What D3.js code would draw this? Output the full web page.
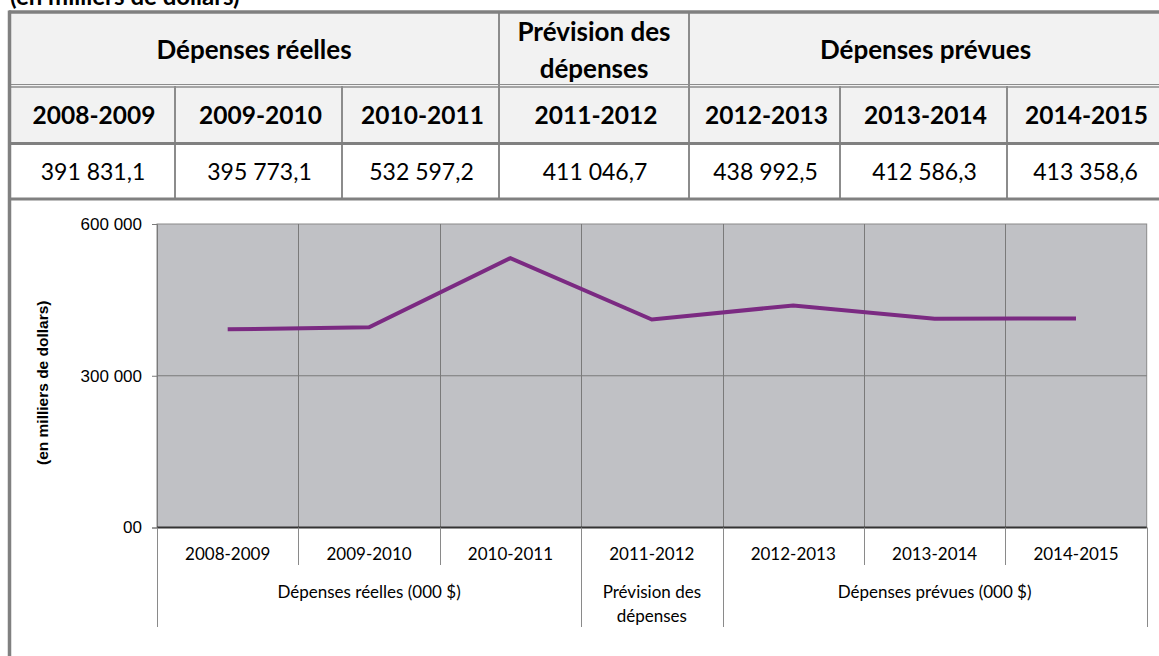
<!DOCTYPE html>
<html>
<head>
<meta charset="utf-8">
<script src="https://cdn.jsdelivr.net/npm/d3@7"></script>
<style>
  body { margin: 0; background: #fff; }
  svg { display: block; }
</style>
</head>
<body>
<script>
// data
const years = ["2008-2009", "2009-2010", "2010-2011", "2011-2012", "2012-2013", "2013-2014", "2014-2015"];
const spending = [391831.1, 395773.1, 532597.2, 411046.7, 438992.5, 412586.3, 413358.6];
const headGroups = ["Dépenses réelles", "Prévision des|dépenses", "Dépenses prévues"];
const groupSpan = [3, 1, 3];
const axisGroups = ["Dépenses réelles (000 $)", "Prévision des|dépenses", "Dépenses prévues (000 $)"];
const yTicks = [0, 300000, 600000];
const yTickLabels = ["00", "300 000", "600 000"];
const yTitle = "(en milliers de dollars)";

const W = 1159, H = 656;
const calibri = "Lato, 'Open Sans', sans-serif";
const arial = "'Liberation Sans', Arial, sans-serif";
const border = "#808080";

// table column edges (layout)
const colEdges = [9, 175, 342, 499, 689, 840, 1007, 1162];
const rowTop = 12, row1 = 86, row2 = 143.5, row3 = 199;

const fr = d3.formatLocale({decimal: ",", thousands: "\u00a0", grouping: [3], currency: ["", " $"]});
const fmt = fr.format(",.1f");

const svg = d3.select("body").append("svg")
  .attr("width", W)
  .attr("height", H);

// top caption, cut by the page edge like in the source
svg.append("text")
  .attr("x", 10).attr("y", 5)
  .attr("font-family", calibri).attr("font-weight", "bold").attr("font-size", 24)
  .attr("fill", "#000")
  .text("(en milliers de dollars)");

// header backgrounds
svg.append("rect")
  .attr("x", colEdges[0]).attr("y", rowTop)
  .attr("width", colEdges[7] - colEdges[0]).attr("height", row2 - rowTop)
  .attr("fill", "#f2f2f2");

// group header row
let start = 0;
headGroups.forEach(function(g, i) {
  const x0 = colEdges[start], x1 = colEdges[start + groupSpan[i]];
  const lines = g.split("|");
  const t = svg.append("text")
    .attr("text-anchor", "middle")
    .attr("font-family", calibri).attr("font-weight", "bold").attr("font-size", 26)
    .attr("fill", "#000");
  lines.forEach(function(l, j) {
    t.append("tspan")
      .attr("x", (x0 + x1) / 2)
      .attr("y", (rowTop + row1) / 2 + 10 + (j - (lines.length - 1) / 2) * 37)
      .text(l);
  });
  if (i > 0) {
    svg.append("line")
      .attr("x1", x0).attr("x2", x0).attr("y1", rowTop).attr("y2", row1)
      .attr("stroke", "#8c8c8c").attr("stroke-width", 2);
  }
  start += groupSpan[i];
});

// year row and value row
years.forEach(function(y, i) {
  const x0 = colEdges[i], x1 = colEdges[i + 1];
  svg.append("text")
    .attr("x", (x0 + x1) / 2 + 2).attr("y", (row1 + row2) / 2 + 9)
    .attr("text-anchor", "middle")
    .attr("font-family", calibri).attr("font-weight", "bold").attr("font-size", 24.5)
    .text(y);
  svg.append("text")
    .attr("x", (x0 + x1) / 2 + 1).attr("y", (row2 + row3) / 2 + 9)
    .attr("text-anchor", "middle")
    .attr("font-family", calibri).attr("font-size", 23)
    .text(fmt(spending[i]));
  if (i > 0) {
    svg.append("line")
      .attr("x1", x0).attr("x2", x0).attr("y1", row1).attr("y2", row3)
      .attr("stroke", "#8c8c8c").attr("stroke-width", 2);
  }
});

// horizontal table rules
svg.append("line").attr("x1", colEdges[0]).attr("x2", W).attr("y1", row1 - 1.5).attr("y2", row1 - 1.5)
  .attr("stroke", "#8c8c8c").attr("stroke-width", 1);
svg.append("line").attr("x1", colEdges[0]).attr("x2", W).attr("y1", row1 + 1).attr("y2", row1 + 1)
  .attr("stroke", "#8c8c8c").attr("stroke-width", 1.5);
[row2, row3].forEach(function(r) {
  svg.append("line").attr("x1", colEdges[0]).attr("x2", W).attr("y1", r).attr("y2", r)
    .attr("stroke", border).attr("stroke-width", 3);
});
// outer border
svg.append("line").attr("x1", colEdges[0]).attr("x2", W).attr("y1", rowTop).attr("y2", rowTop)
  .attr("stroke", border).attr("stroke-width", 3.5);
svg.append("line").attr("x1", 9.5).attr("x2", 9.5).attr("y1", rowTop - 1.5).attr("y2", H)
  .attr("stroke", border).attr("stroke-width", 3.5);

// ---- chart ----
const plot = {left: 157, right: 1146.7, top: 224, bottom: 527.5};

const x = d3.scaleBand()
  .domain(years)
  .range([plot.left, plot.right])
  .padding(0);

const y = d3.scaleLinear()
  .domain([0, 600000])
  .range([plot.bottom, plot.top]);

svg.append("rect")
  .attr("x", plot.left).attr("y", plot.top)
  .attr("width", plot.right - plot.left).attr("height", plot.bottom - plot.top)
  .attr("fill", "#c0c1c5")
  .attr("stroke", "#8a8a8a").attr("stroke-width", 1);

// vertical gridlines at band edges
svg.append("g").selectAll("line")
  .data(years.slice(1))
  .enter().append("line")
  .attr("x1", function(d) { return Math.round(x(d)) + 0.5; })
  .attr("x2", function(d) { return Math.round(x(d)) + 0.5; })
  .attr("y1", plot.top).attr("y2", plot.bottom)
  .attr("stroke", "#7a7a7a").attr("stroke-width", 1);

// horizontal gridline
svg.append("g").selectAll("line")
  .data(yTicks.filter(function(d) { return d > 0 && d < 600000; }))
  .enter().append("line")
  .attr("x1", plot.left).attr("x2", plot.right)
  .attr("y1", function(d) { return y(d); }).attr("y2", function(d) { return y(d); })
  .attr("stroke", "#7a7a7a").attr("stroke-width", 1);

// y axis
const yAxis = d3.axisLeft(y)
  .tickValues(yTicks)
  .tickSize(5)
  .tickPadding(10)
  .tickFormat(function(d, i) { return yTickLabels[i]; });

const gy = svg.append("g")
  .attr("transform", "translate(" + plot.left + ",0)")
  .call(yAxis);
gy.select(".domain").attr("stroke", "#7a7a7a");
gy.selectAll(".tick line").attr("stroke", "#7a7a7a");
gy.selectAll(".tick text")
  .attr("font-family", arial).attr("font-size", 17).attr("fill", "#000");

// x axis baseline
svg.append("line")
  .attr("x1", plot.left).attr("x2", plot.right)
  .attr("y1", plot.bottom).attr("y2", plot.bottom)
  .attr("stroke", "#333").attr("stroke-width", 2);

// year separators below axis
svg.append("g").selectAll("line")
  .data(years.concat(["end"]))
  .enter().append("line")
  .attr("x1", function(d, i) { return Math.round(i < years.length ? x(d) : plot.right) + 0.5; })
  .attr("x2", function(d, i) { return Math.round(i < years.length ? x(d) : plot.right) + 0.5; })
  .attr("y1", plot.bottom)
  .attr("y2", function(d, i) {
    // group boundaries go lower
    let acc = 0, isGroup = false;
    groupSpan.forEach(function(s) { if (acc === i) isGroup = true; acc += s; });
    if (acc === i) isGroup = true;
    return isGroup ? 627 : 565;
  })
  .attr("stroke", "#8a8a8a").attr("stroke-width", 1);

// year labels
svg.append("g").selectAll("text")
  .data(years)
  .enter().append("text")
  .attr("x", function(d) { return x(d) + x.bandwidth() / 2; })
  .attr("y", 560)
  .attr("text-anchor", "middle")
  .attr("font-family", calibri).attr("font-size", 17).attr("fill", "#000")
  .text(function(d) { return d; });

// group labels
let s0 = 0;
axisGroups.forEach(function(g, i) {
  const xa = x(years[s0]);
  const xb = x(years[s0 + groupSpan[i] - 1]) + x.bandwidth();
  const t = svg.append("text")
    .attr("text-anchor", "middle")
    .attr("font-family", calibri).attr("font-size", 17).attr("fill", "#000");
  g.split("|").forEach(function(l, j) {
    t.append("tspan").attr("x", (xa + xb) / 2).attr("y", 598 + j * 24).text(l);
  });
  s0 += groupSpan[i];
});

// y title
svg.append("text")
  .attr("transform", "translate(48," + ((plot.top + plot.bottom) / 2 + 7) + ") rotate(-90)")
  .attr("text-anchor", "middle")
  .attr("font-family", arial).attr("font-weight", "bold").attr("font-size", 15.5)
  .text(yTitle);

// spending line
const line = d3.line()
  .x(function(d, i) { return x(years[i]) + x.bandwidth() / 2; })
  .y(function(d) { return y(d); });

svg.append("path")
  .datum(spending)
  .attr("d", line)
  .attr("fill", "none")
  .attr("stroke", "#7b2a82")
  .attr("stroke-width", 4)
  .attr("stroke-linejoin", "miter");
</script>
</body>
</html>
